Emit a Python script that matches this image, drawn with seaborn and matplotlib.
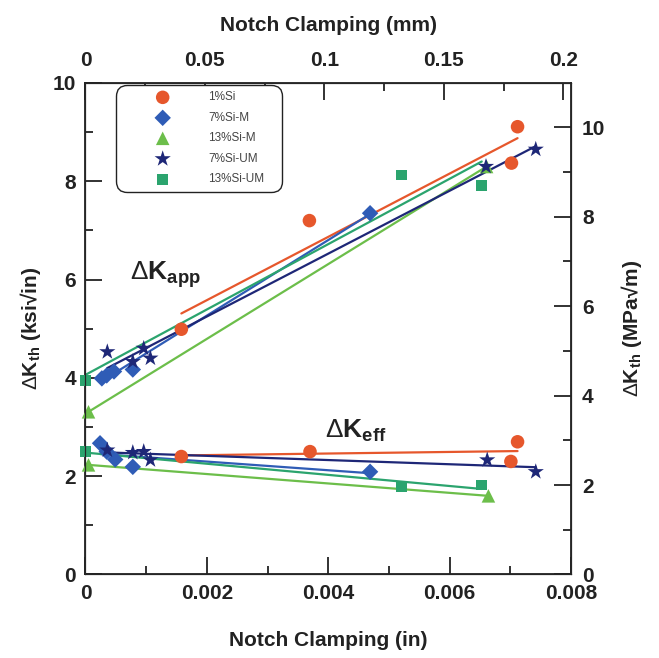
import numpy as np
import pandas as pd
import matplotlib
matplotlib.use("Agg")
import matplotlib.pyplot as plt
from matplotlib.ticker import MultipleLocator, FuncFormatter
import seaborn as sns

# ---------------- data ----------------
series_names = ["1%Si", "7%Si-M", "13%Si-M", "7%Si-UM", "13%Si-UM"]

# Delta K_app (upper group), x in inches, y in ksi*sqrt(in)
app_x = {
    "1%Si":     [0.00158, 0.00369, 0.00702, 0.00712],
    "7%Si-M":   [0.00027, 0.00035, 0.00047, 0.00078, 0.00469],
    "13%Si-M":  [0.00005, 0.00661],
    "7%Si-UM":  [0.00036, 0.00078, 0.00096, 0.00107, 0.00660, 0.00742],
    "13%Si-UM": [0.00000, 0.00521, 0.00653],
}
app_y = {
    "1%Si":     [4.99, 7.20, 8.37, 9.11],
    "7%Si-M":   [3.99, 4.05, 4.13, 4.17, 7.35],
    "13%Si-M":  [3.31, 8.30],
    "7%Si-UM":  [4.53, 4.33, 4.60, 4.40, 8.30, 8.65],
    "13%Si-UM": [3.94, 8.13, 7.92],
}
# Delta K_eff (lower group)
eff_x = {
    "1%Si":     [0.00158, 0.00370, 0.00701, 0.00712],
    "7%Si-M":   [0.00024, 0.00035, 0.00049, 0.00078, 0.00469],
    "13%Si-M":  [0.00005, 0.00664],
    "7%Si-UM":  [0.00036, 0.00078, 0.00096, 0.00107, 0.00662, 0.00742],
    "13%Si-UM": [0.00000, 0.00521, 0.00653],
}
eff_y = {
    "1%Si":     [2.40, 2.50, 2.30, 2.70],
    "7%Si-M":   [2.67, 2.50, 2.34, 2.19, 2.09],
    "13%Si-M":  [2.23, 1.60],
    "7%Si-UM":  [2.53, 2.48, 2.50, 2.33, 2.33, 2.09],
    "13%Si-UM": [2.50, 1.79, 1.82],
}

x_ticks_in = [0, 0.002, 0.004, 0.006, 0.008]
x_ticks_mm = [0, 0.05, 0.1, 0.15, 0.2]
y_ticks_ksi = [0, 2, 4, 6, 8, 10]
y_ticks_mpa = [0, 2, 4, 6, 8, 10]
KSI_TO_MPA = 1.0988
IN_TO_MM = 25.4

# ---------------- styles ----------------
colors = {
    "1%Si": "#E6572C",
    "7%Si-M": "#2F5CB6",
    "13%Si-M": "#6CBE4A",
    "7%Si-UM": "#1E2777",
    "13%Si-UM": "#2BA46E",
}
markers = {"1%Si": "o", "7%Si-M": "D", "13%Si-M": "^", "7%Si-UM": "*", "13%Si-UM": "s"}
msizes = {"1%Si": 95, "7%Si-M": 70, "13%Si-M": 95, "7%Si-UM": 150, "13%Si-UM": 60}

rows = []
for name in series_names:
    for xv, yv in zip(app_x[name], app_y[name]):
        rows.append((name, "app", xv, yv))
    for xv, yv in zip(eff_x[name], eff_y[name]):
        rows.append((name, "eff", xv, yv))
df = pd.DataFrame(rows, columns=["series", "group", "x", "y"])

sns.set_style("white")
plt.rcParams["font.family"] = ["Liberation Sans", "DejaVu Sans"]
plt.rcParams["mathtext.fontset"] = "custom"
plt.rcParams["mathtext.rm"] = "Liberation Sans"
plt.rcParams["mathtext.bf"] = "Liberation Sans:bold"
plt.rcParams["mathtext.it"] = "Liberation Sans:italic"

TXT = "#222222"
fig = plt.figure(figsize=(6.59, 6.58), dpi=100)
ax = fig.add_axes([0.1297, 0.1269, 0.7367, 0.747])

# regression lines
for name in series_names:
    for grp in ["app", "eff"]:
        sub = df[(df.series == name) & (df.group == grp)]
        sns.regplot(data=sub, x="x", y="y", ax=ax, scatter=False, ci=None,
                    truncate=True, color=colors[name],
                    line_kws=dict(lw=1.6, zorder=2))

# markers
for name in series_names:
    sub = df[df.series == name]
    sns.scatterplot(data=sub, x="x", y="y", ax=ax, color=colors[name],
                    marker=markers[name], s=msizes[name], edgecolor="none",
                    linewidth=0, zorder=3, label=name, legend=False, clip_on=False)

ax.set_xlim(0, 0.008)
ax.set_ylim(0, 10)
ax.set_xticks(x_ticks_in)
ax.set_yticks(y_ticks_ksi)
ax.xaxis.set_minor_locator(MultipleLocator(0.001))
ax.yaxis.set_minor_locator(MultipleLocator(1))
ax.xaxis.set_major_formatter(FuncFormatter(lambda v, p: "0" if abs(v) < 1e-12 else f"{v:.3f}"))
ax.set_xlabel("Notch Clamping (in)", fontsize=15, fontweight="bold", color=TXT, labelpad=20)
ax.set_ylabel(r"$\Delta\mathbf{K}_{\mathbf{th}}$ (ksi√in)", fontsize=15, fontweight="bold",
              color=TXT, labelpad=7)

tick_kw = dict(direction="in", color="#222222", labelcolor=TXT)
ax.tick_params(axis="both", which="major", length=12, width=1.3, pad=7, labelsize=15, **tick_kw)
ax.tick_params(axis="both", which="minor", length=6, width=1.3, **tick_kw)
ax.tick_params(axis="y", which="both", right=False)
ax.tick_params(axis="x", which="both", top=False)
for lab in ax.get_xticklabels() + ax.get_yticklabels():
    lab.set_fontweight("bold")
for sp in ax.spines.values():
    sp.set_linewidth(1.3)
    sp.set_color("#222222")

# right axis (MPa sqrt m)
axr = ax.twinx()
axr.set_ylim(0, 10 * KSI_TO_MPA)
axr.set_yticks(y_ticks_mpa)
axr.yaxis.set_minor_locator(MultipleLocator(1))
axr.tick_params(axis="y", which="major", length=12, width=1.3, pad=8, labelsize=15, **tick_kw)
axr.tick_params(axis="y", which="minor", length=6, width=1.3, **tick_kw)
for lab in axr.get_yticklabels():
    lab.set_fontweight("bold")
axr.set_ylabel(r"$\Delta\mathbf{K}_{\mathbf{th}}$ (MPa√m)", fontsize=15, fontweight="bold",
               color=TXT, labelpad=10)
axr.grid(False)

# top axis (mm)
axt = ax.twiny()
axt.set_xlim(0, 0.008 * IN_TO_MM)
axt.set_xticks(x_ticks_mm)
axt.xaxis.set_minor_locator(MultipleLocator(0.025))
axt.xaxis.set_major_formatter(FuncFormatter(lambda v, p: f"{v:g}"))
axt.tick_params(axis="x", which="major", length=12, width=1.3, pad=9, labelsize=15, **tick_kw)
axt.tick_params(axis="x", which="minor", length=6, width=1.3, **tick_kw)
for lab in axt.get_xticklabels():
    lab.set_fontweight("bold")
axt.set_xlabel("Notch Clamping (mm)", fontsize=15, fontweight="bold", color=TXT, labelpad=15)
axt.grid(False)
ax.grid(False)

# annotations
ax.text(0.00073, 6.1, r"$\Delta\mathbf{K}_{\mathbf{app}}$", fontsize=19, color=TXT, va="center", ha="left")
ax.text(0.00395, 2.92, r"$\Delta\mathbf{K}_{\mathbf{eff}}$", fontsize=19, color=TXT, va="center", ha="left")

# legend
h, l = ax.get_legend_handles_labels()
leg = axt.legend(h, l, loc="upper left", bbox_to_anchor=(0.063, 0.776, 0.342, 0.22),
                 mode="expand", fontsize=8.5, labelspacing=0.72, handlelength=6.8,
                 handletextpad=0.45, borderpad=0.55, borderaxespad=0, frameon=True,
                 fancybox=True, labelcolor="#444444")
fr = leg.get_frame()
fr.set_edgecolor("#222222")
fr.set_linewidth(1.0)
fr.set_facecolor("white")
fr.set_alpha(1)
fr.set_boxstyle("round", pad=0, rounding_size=0.9)

fig.savefig("out.png", dpi=100)
